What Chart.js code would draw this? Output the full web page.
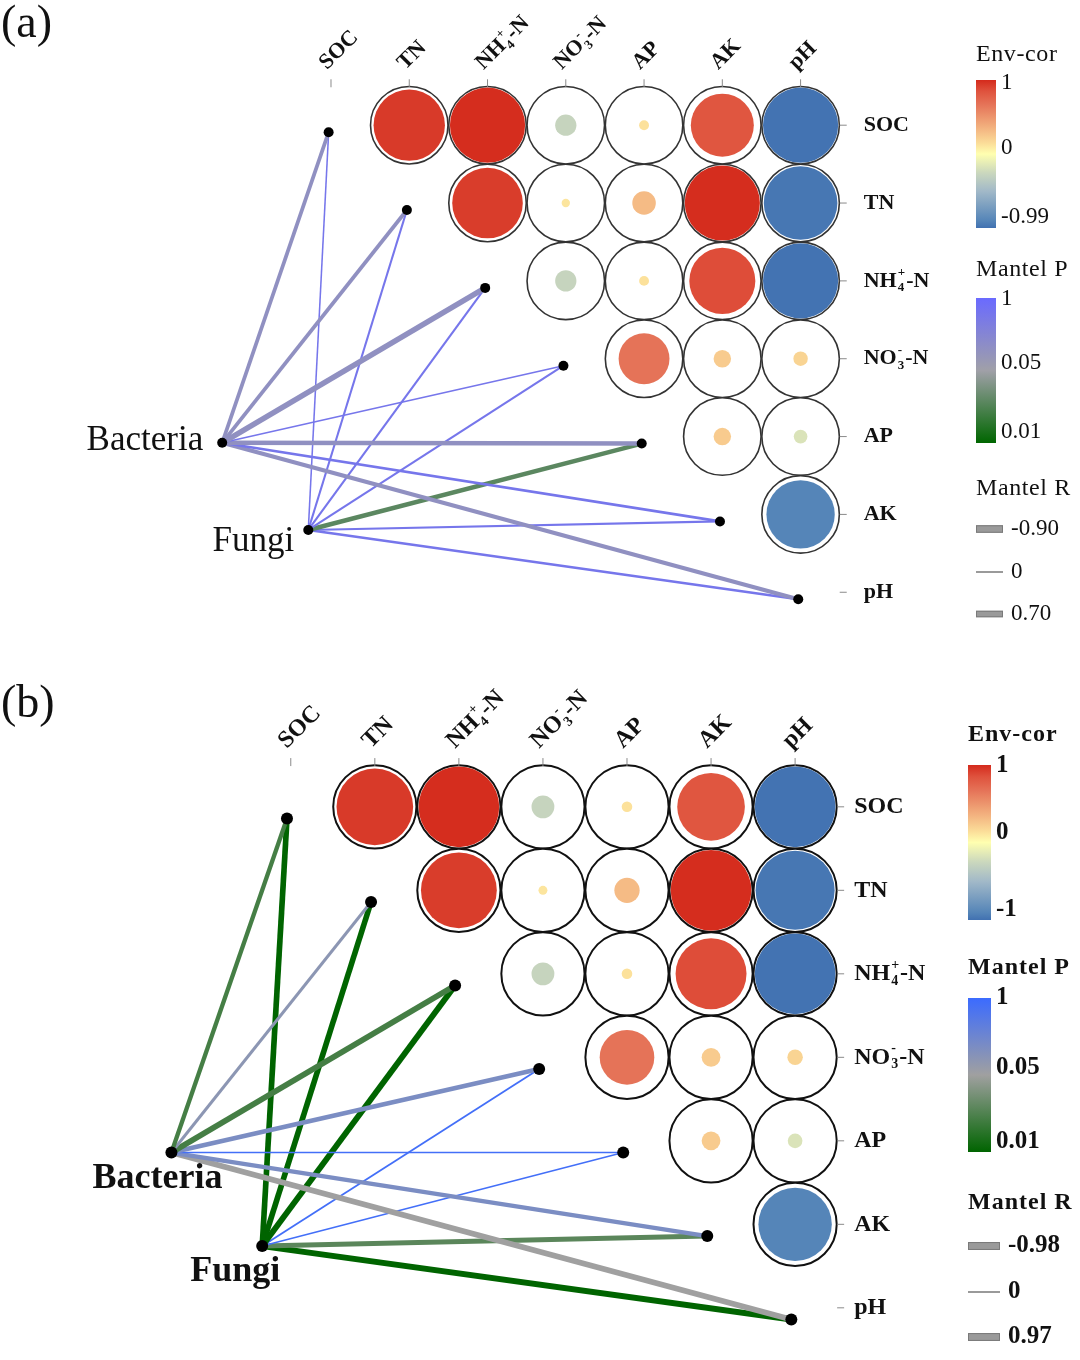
<!DOCTYPE html>
<html>
<head>
<meta charset="utf-8">
<title>Mantel test</title>
<script src="https://cdn.jsdelivr.net/npm/chart.js@4.4.1/dist/chart.umd.min.js"></script>
<style>
  html, body { margin: 0; padding: 0; background: #fff; }
  canvas { display: block; }
</style>
</head>
<body>
<canvas id="panel-a" width="1080" height="680"></canvas>
<canvas id="panel-b" width="1080" height="680"></canvas>
<script>
const envVars = ['SOC', 'TN', 'NH4+-N', 'NO3--N', 'AP', 'AK', 'pH'];
const groups = ['Bacteria', 'Fungi'];

// correlation between soil properties, upper triangle only (row < col)
const envCor = [
	[null, 0.94, 0.99, -0.28, 0.13, 0.83, -0.99],
	[null, null, 0.93, 0.11, 0.31, 0.99, -0.97],
	[null, null, null, -0.28, 0.13, 0.87, -0.99],
	[null, null, null, null, 0.67, 0.23, 0.19],
	[null, null, null, null, null, 0.23, -0.18],
	[null, null, null, null, null, null, -0.90],
];

// panel (a)
const mantelR_a_bacteria = [0.55, 0.55, -0.90, 0.11, 0.70, 0.33, 0.62];
const mantelP_a_bacteria = [0.12, 0.12, 0.12, 0.50, 0.12, 0.50, 0.12];
const mantelR_a_fungi = [0.11, 0.22, 0.22, 0.22, 0.70, 0.22, 0.30];
const mantelP_a_fungi = [0.50, 0.50, 0.50, 0.50, 0.025, 0.50, 0.50];

// panel (b)
const mantelR_b_bacteria = [0.66, 0.40, 0.93, 0.72, 0.10, 0.66, -0.98];
const mantelP_b_bacteria = [0.02, 0.09, 0.02, 0.15, 0.80, 0.15, 0.05];
const mantelR_b_fungi = [0.93, 0.93, 0.97, 0.16, 0.10, 0.80, 0.97];
const mantelP_b_fungi = [0.01, 0.01, 0.01, 0.80, 0.80, 0.025, 0.01];

// legend tick labels
const envTicks_a = ['1', '0', '-0.99'];
const envTicks_b = ['1', '0', '-1'];
const pTicks = ['1', '0.05', '0.01'];
const rTicks_a = ['-0.90', '0', '0.70'];
const rTicks_b = ['-0.98', '0', '0.97'];

const serif = '"Liberation Serif", "Times New Roman", serif';

const corStops = [
	[-1, '#4171b1'], [-0.9, '#5585b8'], [-0.5, '#a2b9c8'], [-0.25, '#cbd8bd'],
	[0, '#ffffb0'], [0.15, '#fbdc98'], [0.3, '#f5bd86'], [0.67, '#e57358'],
	[0.85, '#df523d'], [1, '#d42a1c'],
];

function hexRgb(h) {
	const n = parseInt(h.slice(1), 16);
	return [(n >> 16) & 255, (n >> 8) & 255, n & 255];
}

function mix(stops, v) {
	if (v <= stops[0][0]) return stops[0][1];
	for (let i = 1; i < stops.length; i++) {
		if (v <= stops[i][0]) {
			const [a, ca] = stops[i - 1];
			const [b, cb] = stops[i];
			const t = (v - a) / (b - a);
			const x = hexRgb(ca), y = hexRgb(cb);
			return 'rgb(' + x.map((c, k) => Math.round(c + (y[k] - c) * t)).join(',') + ')';
		}
	}
	return stops[stops.length - 1][1];
}

const corColor = (v) => mix(corStops, v);

// 0 = top of bar (p = 1), 1 = bottom (p = 0.01)
function pPos(p) {
	if (p >= 0.05) return 0.5 * (1 - Math.log(p / 0.05) / Math.log(20));
	return 0.5 + 0.5 * (1 - Math.log(p / 0.01) / Math.log(5));
}

const lineWidth = (r) => 1 + 5 * Math.abs(r);

function labelParts(name) {
	if (name === 'NH4+-N') return [{ t: 'NH' }, { sub: '4', sup: '+' }, { t: '-N' }];
	if (name === 'NO3--N') return [{ t: 'NO' }, { sub: '3', sup: '-' }, { t: '-N' }];
	return [{ t: name }];
}

function drawRich(ctx, name, x, y, size, weight, baseline) {
	ctx.textAlign = 'left';
	ctx.textBaseline = baseline;
	const subOff = baseline === 'middle' ? 0.3 : 0.22;
	const supOff = baseline === 'middle' ? -0.36 : -0.46;
	let cx = x;
	labelParts(name).forEach((p) => {
		if (p.t) {
			ctx.font = `${weight} ${size}px ${serif}`;
			ctx.fillText(p.t, cx, y);
			cx += ctx.measureText(p.t).width;
		} else {
			const s = Math.round(size * 0.6);
			ctx.font = `${weight} ${s}px ${serif}`;
			ctx.fillText(p.sub, cx + 1, y + size * subOff);
			ctx.fillText(p.sup, cx + 1, y + size * supOff);
			cx += Math.max(ctx.measureText(p.sub).width, ctx.measureText(p.sup).width) + 2;
		}
	});
}

function drawLegend(ctx, P) {
	const L = P.legend;
	const tx = L.x + L.barW + 5;
	ctx.fillStyle = '#111';
	ctx.textAlign = 'left';
	ctx.textBaseline = 'middle';
	const titleFont = `${L.weight} ${L.titleSize}px ${serif}`;
	const tickFont = `${L.weight} ${L.tickSize}px ${serif}`;
	const title = (t, y) => {
		ctx.font = titleFont;
		ctx.letterSpacing = L.spacing;
		ctx.fillText(t, L.x, y);
		ctx.letterSpacing = '0px';
	};

	// Env-cor
	title('Env-cor', L.envTitle);
	let [top, bot] = L.envBar;
	let g = ctx.createLinearGradient(0, top, 0, bot);
	corStops.forEach(([v, c]) => g.addColorStop((1 - v) / 2, c));
	ctx.fillStyle = g;
	ctx.fillRect(L.x, top, L.barW, bot - top);
	ctx.fillStyle = '#111';
	ctx.font = tickFont;
	P.envTicks.forEach((t, i) => ctx.fillText(t, tx, L.envTickY[i]));

	// Mantel P
	title('Mantel P', L.pTitle);
	[top, bot] = L.pBar;
	g = ctx.createLinearGradient(0, top, 0, bot);
	P.pStops.forEach(([pos, c]) => g.addColorStop(pos, c));
	ctx.fillStyle = g;
	ctx.fillRect(L.x, top, L.barW, bot - top);
	ctx.fillStyle = '#111';
	ctx.font = tickFont;
	pTicks.forEach((t, i) => ctx.fillText(t, tx, L.pTickY[i]));

	// Mantel R
	title('Mantel R', L.rTitle);
	P.rTicks.forEach((t, i) => {
		const y = L.rKeyY[i];
		const w = lineWidth(parseFloat(t)) + 2;
		ctx.fillStyle = '#9a9a9a';
		ctx.strokeStyle = '#7a7a7a';
		ctx.lineWidth = 1;
		if (parseFloat(t) === 0) {
			ctx.fillRect(L.x, y - 1, L.keyW, 2);
		} else {
			ctx.fillRect(L.x, y - w / 2, L.keyW, w);
			ctx.strokeRect(L.x + 0.5, y - w / 2 + 0.5, L.keyW - 1, w - 1);
		}
		ctx.fillStyle = '#111';
		ctx.font = tickFont;
		ctx.fillText(t, L.x + L.keyW + 8, y);
	});
}

function drawDecor(chart, P) {
	const ctx = chart.ctx;
	const xs = chart.scales.x, ys = chart.scales.y;
	const n = envVars.length;
	const gridTop = ys.getPixelForValue(-0.5);
	const gridRight = xs.getPixelForValue(n - 0.5);
	ctx.save();
	ctx.strokeStyle = '#8a8a8a';
	ctx.lineWidth = 1;
	envVars.forEach((name, i) => {
		const cx = xs.getPixelForValue(i), cy = ys.getPixelForValue(i);
		ctx.beginPath();
		ctx.moveTo(cx, gridTop - 7);
		ctx.lineTo(cx, gridTop + 1);
		ctx.moveTo(gridRight, cy);
		ctx.lineTo(gridRight + 7, cy);
		ctx.stroke();
		ctx.fillStyle = '#111';
		ctx.save();
		ctx.translate(cx - 4, gridTop - 16);
		ctx.rotate(-Math.PI / 4);
		drawRich(ctx, name, 0, 0, P.axisSize, 'bold', 'alphabetic');
		ctx.restore();
		drawRich(ctx, name, gridRight + P.rowLabelGap, cy, P.axisSize, 'bold', 'middle');
	});

	// Bacteria / Fungi labels
	ctx.fillStyle = '#111';
	groups.forEach((gname, k) => {
		const lab = P.hubLabels[k];
		const hx = xs.getPixelForValue(P.hubs[k][0]);
		const hy = ys.getPixelForValue(P.hubs[k][1]);
		ctx.font = `${P.hubWeight} ${P.hubSize}px ${serif}`;
		ctx.textAlign = lab.align;
		ctx.textBaseline = 'middle';
		ctx.fillText(gname, hx + lab.dx, hy + lab.dy);
	});

	// panel letter
	ctx.font = `normal 46px ${serif}`;
	ctx.textAlign = 'left';
	ctx.textBaseline = 'middle';
	ctx.fillText(P.letter, 1, 25);

	drawLegend(ctx, P);
	ctx.restore();
}

function makePanel(canvasId, P) {
	const cellPx = (chart) => chart.scales.x.getPixelForValue(1) - chart.scales.x.getPixelForValue(0);

	const cells = [];
	envCor.forEach((row, i) => row.forEach((v, j) => {
		if (v !== null) cells.push({ x: j, y: i, v });
	}));

	const nodes = envVars.map((_, i) => ({ x: i + P.nodeShift[0], y: i + P.nodeShift[1] }));
	const hubs = P.hubs.map(([x, y]) => ({ x, y }));

	const links = [];
	groups.forEach((_, k) => {
		envVars.forEach((__, i) => {
			const r = P.mantelR[k][i];
			const p = P.mantelP[k][i];
			links.push({
				data: [hubs[k], nodes[i]],
				showLine: true,
				borderColor: mix(P.pStops, pPos(p)),
				borderWidth: lineWidth(r),
				pointRadius: 0,
				order: 2,
			});
		});
	});

	new Chart(document.getElementById(canvasId), {
		type: 'scatter',
		data: {
			datasets: [
				{
					data: cells,
					pointRadius: (c) => cellPx(c.chart) * 0.495,
					pointBackgroundColor: '#ffffff',
					pointBorderColor: P.ringColor,
					pointBorderWidth: P.ringWidth,
					order: 6,
				},
				{
					data: cells,
					pointRadius: (c) => cellPx(c.chart) * 0.485 * Math.abs(c.raw.v),
					pointBackgroundColor: (c) => corColor(c.raw.v),
					pointBorderWidth: 0,
					order: 5,
				},
				...links,
				{
					data: nodes.concat(hubs),
					pointRadius: P.nodeSize,
					pointBackgroundColor: '#000',
					pointBorderWidth: 0,
					order: 0,
				},
			],
		},
		options: {
			responsive: false,
			animation: false,
			events: [],
			layout: { padding: 0 },
			plugins: { legend: { display: false }, tooltip: { enabled: false } },
			scales: {
				x: { type: 'linear', min: P.xRange[0], max: P.xRange[1], display: false },
				y: { type: 'linear', min: P.yRange[0], max: P.yRange[1], reverse: true, display: false },
			},
		},
		plugins: [{ id: 'decor', afterDraw: (chart) => drawDecor(chart, P) }],
	});
}

makePanel('panel-a', {
	letter: '(a)',
	xRange: [-4.165, 9.506],
	yRange: [-1.544, 7.063],
	nodeShift: [-0.03, 0.09],
	hubs: [[-1.39, 4.08], [-0.29, 5.2]],
	hubLabels: [{ dx: -19, dy: -2, align: 'right' }, { dx: -14, dy: 12, align: 'right' }],
	hubSize: 35,
	hubWeight: 'normal',
	nodeSize: 5,
	axisSize: 22,
	rowLabelGap: 24,
	ringColor: '#333333',
	ringWidth: 1.6,
	mantelR: [mantelR_a_bacteria, mantelR_a_fungi],
	mantelP: [mantelP_a_bacteria, mantelP_a_fungi],
	pStops: [[0, '#6a6aff'], [0.5, '#a0a0a8'], [1, '#006600']],
	envTicks: envTicks_a,
	rTicks: rTicks_a,
	legend: {
		x: 976, barW: 20, keyW: 27, weight: 'normal', titleSize: 24, tickSize: 23, spacing: '0.6px',
		envTitle: 55, envBar: [80, 228], envTickY: [83, 148, 217],
		pTitle: 270, pBar: [298, 443], pTickY: [299, 363, 432],
		rTitle: 489, rKeyY: [529, 572, 614],
	},
});

makePanel('panel-b', {
	letter: '(b)',
	xRange: [-3.388, 9.318],
	yRange: [-1.447, 6.553],
	nodeShift: [-0.045, 0.14],
	hubs: [[-1.42, 4.14], [-0.34, 5.26]],
	hubLabels: [{ dx: -14, dy: 26, align: 'center' }, { dx: -27, dy: 26, align: 'center' }],
	hubSize: 36,
	hubWeight: 'bold',
	nodeSize: 6,
	axisSize: 24,
	rowLabelGap: 17,
	ringColor: '#111111',
	ringWidth: 2,
	mantelR: [mantelR_b_bacteria, mantelR_b_fungi],
	mantelP: [mantelP_b_bacteria, mantelP_b_fungi],
	pStops: [[0, '#3b6bff'], [0.5, '#a0a0a0'], [1, '#006400']],
	envTicks: envTicks_b,
	rTicks: rTicks_b,
	legend: {
		x: 968, barW: 23, keyW: 32, weight: 'bold', titleSize: 24, tickSize: 25, spacing: '1px',
		envTitle: 55, envBar: [85, 240], envTickY: [86, 153, 230],
		pTitle: 288, pBar: [318, 472], pTickY: [318, 388, 462],
		rTitle: 523, rKeyY: [566, 612, 657],
	},
});
</script>
</body>
</html>
